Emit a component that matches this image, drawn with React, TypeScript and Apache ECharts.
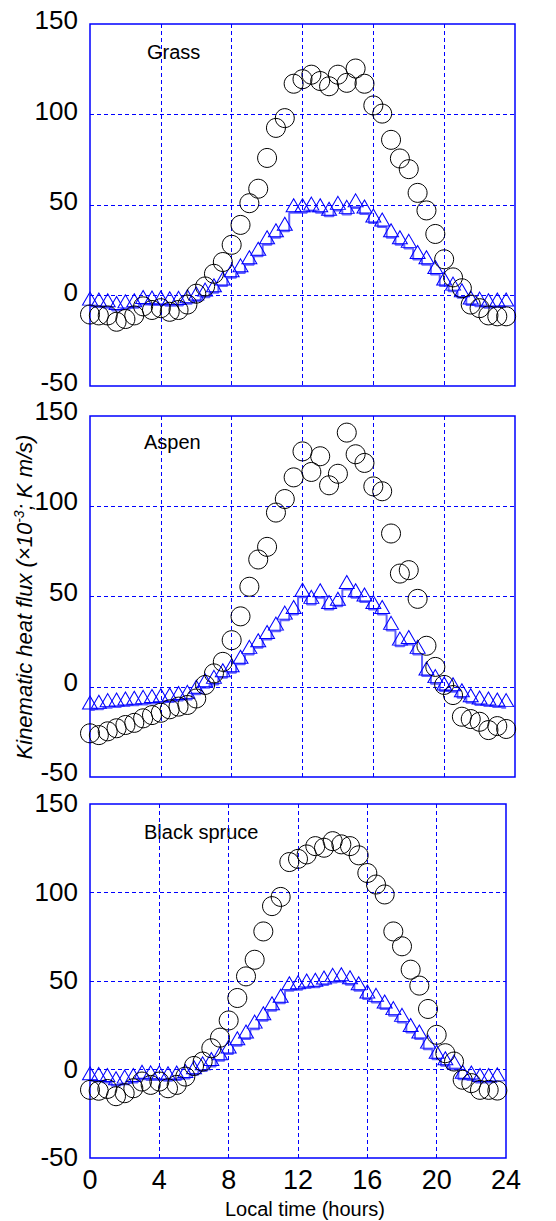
import React, { useEffect, useRef } from "react";
import * as echarts from "echarts";

const hours = [0, 0.5, 1, 1.5, 2, 2.5, 3, 3.5, 4, 4.5, 5, 5.5, 6, 6.5, 7, 7.5, 8, 8.5, 9, 9.5, 10, 10.5, 11, 11.5, 12, 12.5, 13, 13.5, 14, 14.5, 15, 15.5, 16, 16.5, 17, 17.5, 18, 18.5, 19, 19.5, 20, 20.5, 21, 21.5, 22, 22.5, 23, 23.5];
const xTicks = [0, 4, 8, 12, 16, 20, 24];
const yTicks = [-50, 0, 50, 100, 150];
const panelNames = ["Grass", "Aspen", "Black spruce"];

const grassCircle = [-10.5, -11, -11, -14.5, -13, -11, -6, -8, -7, -9, -8, -5, 1, 5, 12, 18.5, 28, 39, 51, 59, 76, 92.6, 98, 117, 119.5, 122, 118.5, 115.6, 122, 117.5, 125.4, 117, 105, 100.5, 86, 75.7, 69.8, 56.7, 47, 34, 20, 10, 4, -5, -7, -11, -11.5, -11.5];
const grassTriangle = [-5.9, -6.4, -6.8, -8.3, -7.4, -6.8, -5, -5.3, -5.3, -5.7, -5.5, -4.6, -3.1, -0.9, 1.5, 5.2, 9.8, 12.5, 17, 21.7, 28, 31.9, 35.5, 45.7, 45.7, 46.6, 45.7, 43.8, 47, 44.8, 48.4, 45, 40, 37.8, 31.9, 28, 26, 19.9, 17, 11.6, 5.2, 2.4, -1.3, -5.3, -5.9, -6.8, -6.4, -6.4];

const aspenCircle = [-25.8, -26.8, -24.7, -23, -21.2, -20, -17.5, -15.7, -14.4, -12.5, -11, -10.1, -6.5, 1, 7.4, 13.8, 25.8, 39, 55.4, 70.5, 77.5, 96.5, 104, 116, 130.4, 119, 127.7, 111.6, 118, 140.8, 128.8, 124, 111, 108.3, 84.9, 62.7, 64.6, 48.7, 22.7, 11, 1, -4.6, -16.6, -17.9, -19.4, -24, -21.8, -23.4];
const aspenTriangle = [-12.9, -12.5, -11.6, -11.2, -10.7, -10.3, -9.8, -9.3, -8.9, -8.5, -7.6, -7, -4.2, -0.6, 1.3, 5, 7.7, 12.4, 17.9, 21.6, 26.2, 30.8, 36.9, 40, 49.6, 45.6, 49.3, 42.8, 44.6, 53.9, 49.3, 46.9, 42.8, 40, 31.2, 22.5, 23.4, 17.9, 5.9, 1.7, -2.4, -2.8, -6.1, -8.9, -10.1, -10.7, -11.2, -11.6];

const spruceCircle = [-11.5, -12, -11, -15.1, -13.4, -10.6, -6.8, -8.7, -6.8, -10.6, -8.7, -4, 2, 4.5, 12, 18, 27.7, 40.4, 52.6, 62, 78, 92.3, 97.5, 117.2, 119, 121.5, 126.2, 125.3, 129, 127.2, 126.2, 121, 111, 104.5, 98.9, 78, 69.6, 56.4, 47.4, 34.2, 19.6, 9.2, 4.5, -5.8, -7.7, -11.5, -11.5, -11.9];
const spruceTriangle = [-6.4, -6.8, -7.4, -9.2, -8.3, -7.4, -5.5, -5.9, -5.9, -6.4, -6, -5.1, -3, -0.8, 1.7, 4.9, 8.7, 13.4, 17.2, 22.8, 27.5, 33.2, 37.4, 44.5, 45, 46, 46.4, 47.7, 49.2, 49.6, 47.9, 44.5, 39.8, 37.9, 34.2, 30.4, 26.6, 20.9, 17.2, 11.5, 5.8, 2.1, 0.2, -5.5, -6, -7.4, -7.4, -7];

const circleSets = [grassCircle, aspenCircle, spruceCircle];
const triangleSets = [grassTriangle, aspenTriangle, spruceTriangle];

const FONT = '"Liberation Sans", Arial, Helvetica, sans-serif';
const BLUE = "#0000ff";

const grids = [
  { left: 90, top: 24, width: 425, height: 362 },
  { left: 90, top: 416, width: 425, height: 361 },
  { left: 90, top: 804, width: 416, height: 354 },
];
const labelLift = [8, 10, 2];
const labelPos = [
  { x: 147, y: 52 },
  { x: 144, y: 442 },
  { x: 144, y: 832 },
];

export default function App() {
  const ref = useRef<HTMLDivElement>(null);
  useEffect(() => {
    if (!ref.current) return;
    const chart = echarts.init(ref.current, null, { renderer: "svg" });
    const pair = (arr: number[]) => arr.map((v, i) => [hours[i], v]);

    const option: any = {
      animation: false,
      backgroundColor: "#ffffff",
      grid: grids.map((g) => ({
        ...g,
        show: true,
        borderColor: BLUE,
        borderWidth: 1.5,
        backgroundColor: "transparent",
        containLabel: false,
      })),
      xAxis: grids.map((_, i) => ({
        type: "value",
        gridIndex: i,
        min: xTicks[0],
        max: xTicks[xTicks.length - 1],
        interval: 4,
        axisLine: { show: false },
        axisTick: { show: false },
        axisLabel: {
          show: i === 2,
          fontSize: 27,
          fontFamily: FONT,
          color: "#000",
          margin: 8,
        },
        splitLine: {
          show: true,
          showMinLine: false,
          showMaxLine: false,
          lineStyle: { color: BLUE, type: [4, 3], width: 1 },
        },
      })),
      yAxis: grids.map((_, i) => ({
        type: "value",
        gridIndex: i,
        min: yTicks[0],
        max: yTicks[yTicks.length - 1],
        interval: 50,
        axisLine: { show: false },
        axisTick: { show: false },
        axisLabel: {
          fontSize: 26,
          fontFamily: FONT,
          color: "#000",
          margin: 12,
          verticalAlign: "bottom",
          lineHeight: labelLift[i],
        },
        splitLine: {
          show: true,
          showMinLine: false,
          showMaxLine: false,
          lineStyle: { color: BLUE, type: [4, 3], width: 1 },
        },
      })),
      series: [
        ...triangleSets.map((d, i) => ({
          type: "line",
          xAxisIndex: i,
          yAxisIndex: i,
          data: pair(d),
          step: "middle",
          clip: false,
          symbol: "triangle",
          symbolSize: [15, 13],
          symbolOffset: [0, "-58%"],
          showAllSymbol: true,
          lineStyle: { color: "rgba(30,30,255,0.7)", width: 2 },
          itemStyle: { color: "rgba(0,0,0,0)", borderColor: BLUE, borderWidth: 1 },
          z: 3,
        })),
        ...circleSets.map((d, i) => ({
          type: "scatter",
          xAxisIndex: i,
          yAxisIndex: i,
          data: pair(d),
          clip: false,
          symbol: "circle",
          symbolSize: 19,
          itemStyle: { color: "rgba(0,0,0,0)", borderColor: "#000", borderWidth: 1, opacity: 1 },
          z: 4,
        })),
      ],
      graphic: [
        ...panelNames.map((name, i) => ({
          type: "text",
          x: labelPos[i].x,
          y: labelPos[i].y,
          style: {
            text: name,
            font: `20px ${FONT}`,
            fill: "#000",
            textAlign: "left",
            textVerticalAlign: "middle",
          },
        })),
        {
          type: "text",
          x: 305,
          y: 1209,
          style: {
            text: "Local time (hours)",
            font: `20px ${FONT}`,
            fill: "#000",
            textAlign: "center",
            textVerticalAlign: "middle",
          },
        },
        {
          type: "text",
          x: 24,
          y: 597,
          rotation: Math.PI / 2,
          style: {
            text: "{i|Kinematic heat flux (}{n|×10}{s|-3}{i|; K m/s)}",
            textAlign: "center",
            textVerticalAlign: "middle",
            fill: "#000",
            rich: {
              i: { fontSize: 22, fontStyle: "italic", fontFamily: FONT, fill: "#000", lineHeight: 24 },
              n: { fontSize: 22, fontStyle: "italic", fontFamily: FONT, fill: "#000", lineHeight: 24 },
              s: { fontSize: 14, fontStyle: "italic", fontFamily: FONT, fill: "#000", verticalAlign: "top", lineHeight: 24 },
            },
          },
        },
      ],
    };
    chart.setOption(option);
    return () => chart.dispose();
  }, []);
  return (
    <div
      ref={ref}
      style={{ position: "fixed", left: 0, top: 0, width: 556, height: 1221, background: "#fff" }}
    />
  );
}
